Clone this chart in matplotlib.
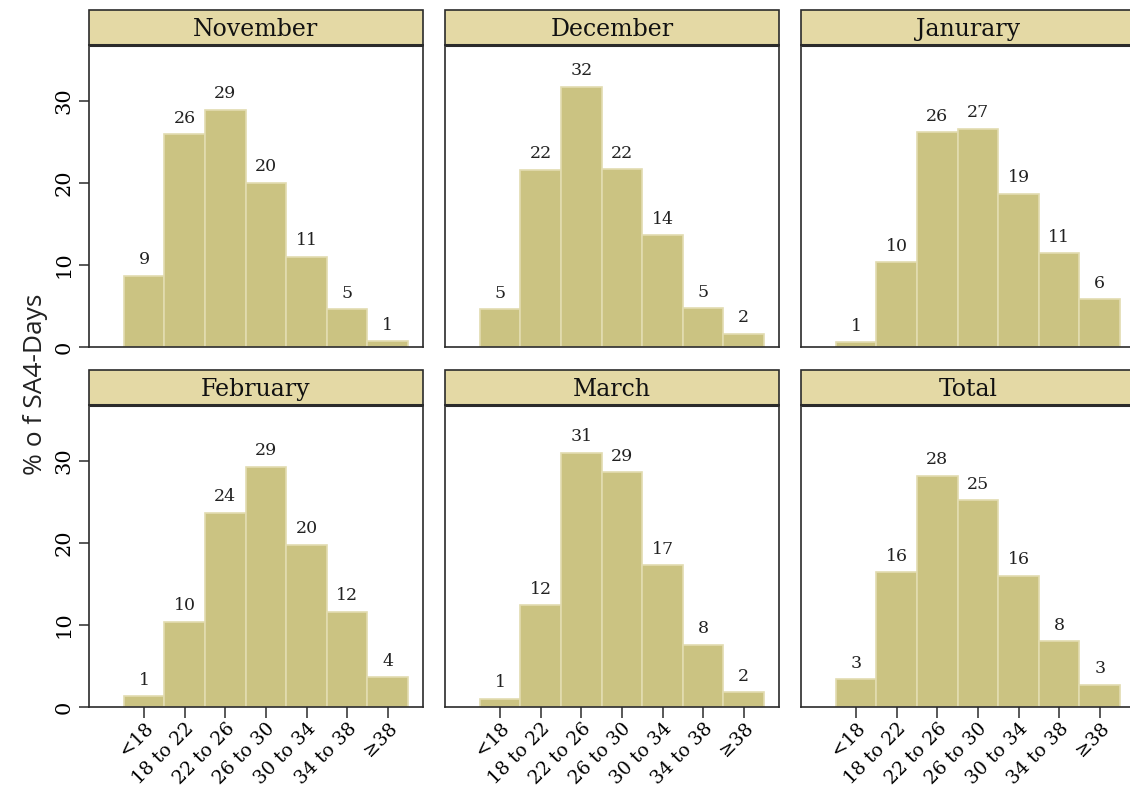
import matplotlib
matplotlib.use("Agg")
from matplotlib import pyplot as plt
from matplotlib.patches import Rectangle

categories = ["<18", "18 to 22", "22 to 26", "26 to 30", "30 to 34", "34 to 38", "≥38"]
months = ["November", "December", "Janurary", "February", "March", "Total"]

november = [8.7, 25.9, 28.9, 20.0, 11.0, 4.6, 0.7]
december = [4.6, 21.6, 31.7, 21.7, 13.6, 4.7, 1.6]
january = [0.6, 10.3, 26.2, 26.6, 18.7, 11.4, 5.8]
february = [1.3, 10.4, 23.7, 29.3, 19.8, 11.6, 3.6]
march = [1.0, 12.4, 31.0, 28.6, 17.3, 7.6, 1.8]
total = [3.4, 16.4, 28.2, 25.2, 16.0, 8.0, 2.7]

series = [november, december, january, february, march, total]

yticks = [0, 10, 20, 30]

BAR = "#cbc382"
BAR_EDGE = "#e2dcb0"
HEAD = "#e4d9a5"
LINE = "#2b2b2b"
SERIF = "DejaVu Serif"

plt.rcParams["font.family"] = SERIF

W, H = 1130, 792
fig = plt.figure(figsize=(W / 100, H / 100), dpi=100)

lefts = [89, 445, 801]
tops = [45, 405]
ax_w, ax_h = 334, 302
head_h = 35

for i, (name, vals) in enumerate(zip(months, series)):
    row, col = divmod(i, 3)
    x0 = lefts[col]
    y0 = tops[row]
    ax = fig.add_axes([x0 / W, 1 - (y0 + ax_h) / H, ax_w / W, ax_h / H])

    xs = list(range(len(categories)))
    ax.bar(xs, vals, width=1.0, color=BAR, edgecolor=BAR_EDGE, linewidth=1.2)
    for x, v in zip(xs, vals):
        ax.text(x, v + 0.9, f"{round(v)}", ha="center", va="bottom",
                fontsize=12.5, color="#222222")

    ax.set_xlim(-1.36, 6.87)
    ax.set_ylim(0, 36.8)

    for s in ax.spines.values():
        s.set_color(LINE)
        s.set_linewidth(1.2)

    if col == 0:
        ax.set_yticks(yticks)
        ax.set_yticklabels([str(t) for t in yticks], rotation=90, va="center",
                           fontsize=15)
        ax.tick_params(axis="y", length=7, width=1.1, color=LINE, pad=4)
    else:
        ax.set_yticks([])

    if row == 1:
        ax.set_xticks(xs)
        ax.set_xticklabels(categories, rotation=45, ha="right",
                           rotation_mode="anchor", fontsize=13.5)
        ax.tick_params(axis="x", length=8, width=1.1, color=LINE, pad=1)
    else:
        ax.set_xticks([])

    # panel header strip
    hh = head_h / ax_h
    ax.add_patch(Rectangle((0, 1), 1, hh, transform=ax.transAxes,
                           facecolor=HEAD, edgecolor=LINE, linewidth=1.2,
                           clip_on=False))
    ax.plot([0, 1], [1, 1], transform=ax.transAxes, color=LINE,
            linewidth=2.2, clip_on=False, solid_capstyle="butt")
    ax.text(0.5, 1 + hh / 2 - 0.006, name, transform=ax.transAxes,
            ha="center", va="center", fontsize=17, color="#111111")

fig.text(36 / W, 1 - 384 / H, "% o f SA4-Days", rotation=90,
         ha="center", va="center", fontsize=19, family="Open Sans",
         color="#222222")

fig.savefig("out.png", dpi=100)
